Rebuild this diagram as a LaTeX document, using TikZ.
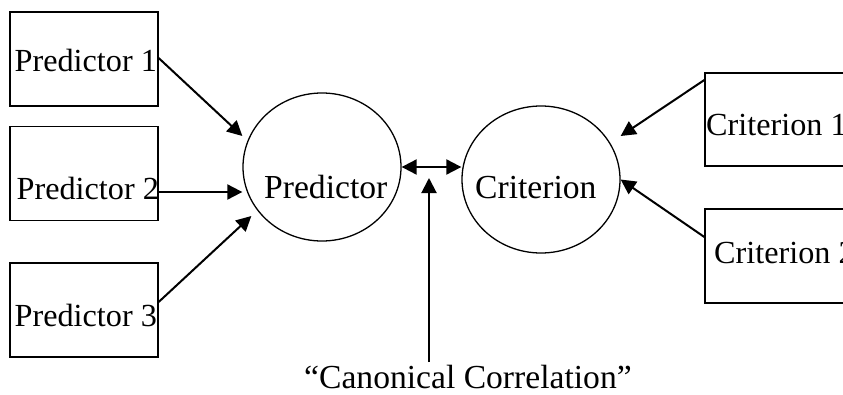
\documentclass[tikz,border=0pt]{standalone}
\usepackage{fontspec}
\setmainfont{Liberation Serif}
\usetikzlibrary{arrows.meta,shapes.geometric}
\begin{document}
\begin{tikzpicture}[x=1pt,y=-1pt,
  box/.style={draw,line width=1.3pt,inner sep=0pt,minimum width=148pt,minimum height=94pt},
  cbox/.style={draw,line width=1.3pt,inner sep=0pt,minimum width=200pt,minimum height=93pt},
  oval/.style={draw,ellipse,line width=1.3pt,inner sep=0pt,minimum width=158pt,minimum height=148pt},
  lab/.style={anchor=base west,inner sep=0pt,font=\fontsize{32.2}{38}\selectfont},
  biglab/.style={lab,font=\fontsize{33.6}{40}\selectfont},
  arr/.style={line width=2pt,-{Triangle[length=15pt,width=15pt]}},
  darr/.style={line width=2pt,{Triangle[length=15pt,width=15pt]}-{Triangle[length=15pt,width=15pt]}}]
\useasboundingbox (0,0) rectangle (843,394);
\clip (0,0) rectangle (843,394);
\fill[white] (0,0) rectangle (843,394);
% predictor boxes
\node[box] (p1) at (84,59) {};
\node[box] (p2) at (84,173.5) {};
\node[box] (p3) at (84,310) {};
\node[lab] (p1t) at (14.5,71) {Predictor 1};
\node[lab] (p2t) at (16.5,199) {Predictor 2};
\node[lab] (p3t) at (14.5,326) {Predictor 3};
% ovals
\node[oval] (pc) at (322,167) {};
\node[oval,minimum height=147pt] (cc) at (541,179.5) {};
\node[biglab] (pct) at (264,198) {Predictor};
\node[biglab] (cct) at (475,198) {Criterion};
% criterion boxes
\node[cbox] (c1) at (805,119.5) {};
\node[cbox,minimum height=94pt] (c2) at (805,256) {};
\node[lab] (c1t) at (706,135) {Criterion 1};
\node[lab] (c2t) at (714,263) {Criterion 2};
% caption
\node[biglab] (cano) at (304,388) {“Canonical Correlation”};
\coordinate (cs) at (429,362);
\coordinate (ct) at (429,178);
% arrows
\draw[arr] ([yshift=1pt]p1.east) -- ([yshift=31pt]pc.west);
\draw[arr] ([yshift=-18.5pt]p2.east) -- ([yshift=-25pt]pc.west);
\draw[arr] ([yshift=8pt]p3.east) -- ([xshift=9pt,yshift=-49pt]pc.west);
\draw[arr] ([yshift=39.5pt]c1.west) -- ([yshift=43.5pt]cc.east);
\draw[arr] ([yshift=19pt]c2.west) -- (cc.east);
\draw[darr] (pc.east) -- (pc.east -| cc.west);
\draw[arr] (cs) -- (ct);
\end{tikzpicture}
\end{document}
